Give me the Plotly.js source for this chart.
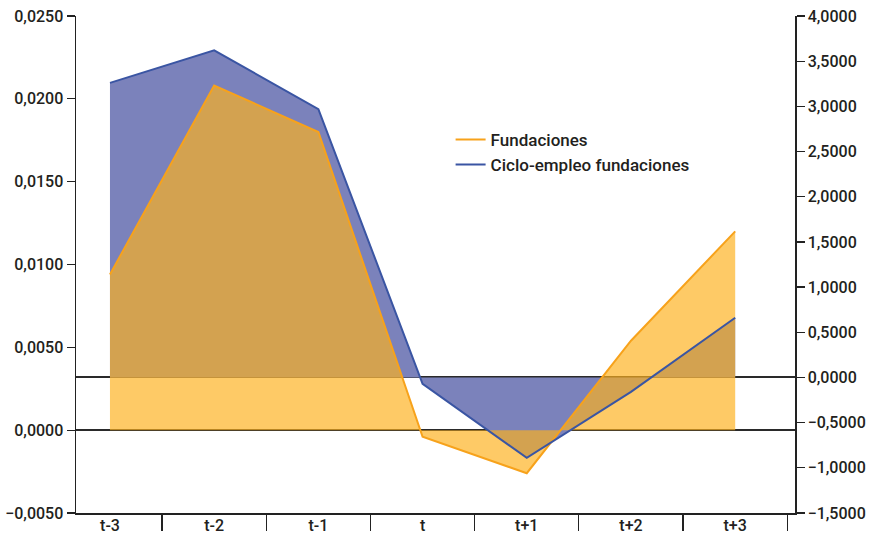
<!DOCTYPE html>
<html>
<head>
<meta charset="utf-8">
<script src="https://cdn.plot.ly/plotly-3.0.1.min.js"></script>
<style>
  html, body { margin: 0; padding: 0; background: #fff; }
  #chart { width: 873px; height: 538px; }
</style>
</head>
<body>
<div id="chart"></div>
<script>
// Periods around the event
const periods = ['t-3', 't-2', 't-1', 't', 't+1', 't+2', 't+3'];

// Fundaciones (left axis)
const fundaciones = [0.0094, 0.0208, 0.0180, -0.0004, -0.0026, 0.0054, 0.0120];

// Ciclo-empleo fundaciones (right axis)
const cicloEmpleo = [3.26, 3.62, 2.97, -0.07, -0.89, -0.16, 0.66];

// Axis tick values
const leftTicks = [-0.005, 0, 0.005, 0.010, 0.015, 0.020, 0.025];
const rightTicks = [-1.5, -1.0, -0.5, 0, 0.5, 1.0, 1.5, 2.0, 2.5, 3.0, 3.5, 4.0];

const ORANGE_LINE = '#F7A21B';
const BLUE_LINE = '#3A55A3';
const TEXT = '#231F20';
const FONT = 'Roboto, "Noto Sans", sans-serif';

const xRange = [-0.326, 6.574];

const traces = [
  { // blue area, filled to its own zero
    x: periods, y: cicloEmpleo, yaxis: 'y', xaxis: 'x',
    type: 'scatter', mode: 'lines', fill: 'tozeroy',
    fillcolor: '#7B82BB', line: { width: 0, color: '#7B82BB' },
    showlegend: false, hoverinfo: 'skip'
  },
  { // orange area, translucent, over the blue one
    x: periods, y: fundaciones, yaxis: 'y2', xaxis: 'x',
    type: 'scatter', mode: 'lines', fill: 'tozeroy',
    fillcolor: 'rgba(254,177,29,0.68)', line: { width: 0, color: 'rgba(254,177,29,0.68)' },
    showlegend: false, hoverinfo: 'skip'
  },
  {
    name: 'Fundaciones',
    x: periods, y: fundaciones, yaxis: 'y2', xaxis: 'x',
    type: 'scatter', mode: 'lines',
    line: { width: 2, color: ORANGE_LINE },
    legendrank: 1
  },
  {
    name: 'Ciclo-empleo fundaciones',
    x: periods, y: cicloEmpleo, yaxis: 'y3', xaxis: 'x',
    type: 'scatter', mode: 'lines',
    line: { width: 2, color: BLUE_LINE },
    legendrank: 2
  }
];

const tickFont = { family: FONT, size: 16, color: TEXT, weight: 500 };

const layout = {
  width: 873, height: 538,
  margin: { l: 76, r: 78, t: 16, b: 25, pad: 0 },
  paper_bgcolor: '#ffffff', plot_bgcolor: 'rgba(0,0,0,0)',
  separators: ',.',
  showlegend: true,
  legend: {
    x: 0.521, y: 0.787, xanchor: 'left', yanchor: 'top',
    bgcolor: 'rgba(0,0,0,0)', borderwidth: 0,
    font: { family: FONT, size: 17, color: TEXT, weight: 500 },
    tracegroupgap: 0, itemwidth: 30
  },
  xaxis: {
    type: 'category', range: xRange,
    showgrid: false, zeroline: false,
    showline: true, linecolor: '#222', linewidth: 1.5,
    tickson: 'boundaries', ticks: 'outside', ticklen: 16, tickwidth: 1.2, tickcolor: '#222',
    ticklabelstandoff: -3,
    tickfont: tickFont, fixedrange: true
  },
  yaxis: {
    range: [-1.5, 4.0], side: 'right',
    tickmode: 'array', tickvals: rightTicks, tickformat: '.4f',
    ticks: 'outside', ticklen: 8, tickwidth: 1.2, tickcolor: '#222',
    showline: true, linecolor: '#222', linewidth: 1.5,
    showgrid: false, zeroline: true, zerolinecolor: '#2a2a2a', zerolinewidth: 2,
    layer: 'above traces', tickfont: tickFont
  },
  yaxis2: {
    range: [-0.005, 0.025], overlaying: 'y', side: 'left', anchor: 'x',
    tickmode: 'array', tickvals: leftTicks, tickformat: '.4f',
    ticks: 'outside', ticklen: 8, tickwidth: 1.2, tickcolor: '#222',
    showline: true, linecolor: '#222', linewidth: 1.5,
    showgrid: false, zeroline: true, zerolinecolor: '#2a2a2a', zerolinewidth: 1.5,
    layer: 'above traces', tickfont: tickFont
  },
  yaxis3: {
    range: [-1.5, 4.0], overlaying: 'y', anchor: 'x',
    visible: false, showgrid: false, zeroline: false
  }
};

Plotly.newPlot('chart', traces, layout, { displayModeBar: false, staticPlot: true });
</script>
</body>
</html>
